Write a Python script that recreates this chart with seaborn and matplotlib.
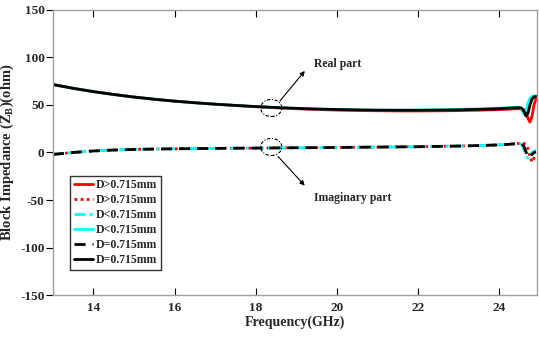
import numpy as np
import pandas as pd
import matplotlib
matplotlib.use("Agg")
import matplotlib.pyplot as plt
import seaborn as sns
from matplotlib.patches import Ellipse

sns.set_style("white")
plt.rcParams['font.family'] = ['Liberation Serif', 'DejaVu Serif']
plt.rcParams['mathtext.fontset'] = 'custom'
plt.rcParams['mathtext.rm'] = 'Liberation Serif:bold'
plt.rcParams['mathtext.it'] = 'Liberation Serif:bold'
plt.rcParams['mathtext.bf'] = 'Liberation Serif:bold'

# frequency points (GHz)
freq = [13.0, 13.5, 14.0, 14.5, 15.0, 15.5, 16.0, 16.5, 17.0, 17.5, 18.0, 18.5,
        19.0, 19.5, 20.0, 20.5, 21.0, 21.5, 22.0, 22.5, 23.0, 23.5, 24.0, 24.2,
        24.4, 24.5, 24.55, 24.6, 24.65, 24.7, 24.75, 24.8, 24.85, 24.9]

# real part (ohm)
real_gt = [71.5, 67.5, 64.0, 61.0, 58.3, 56.0, 54.0, 52.3, 50.8, 49.4, 48.1, 47.0,
           46.0, 45.2, 44.6, 44.2, 43.9, 43.7, 43.7, 43.8, 44.1, 44.5, 45.1, 45.5,
           45.9, 46.0, 45.8, 45.0, 42.0, 36.0, 32.0, 38.0, 50.0, 56.5]
real_lt = [71.5, 67.5, 64.0, 61.0, 58.3, 56.0, 54.0, 52.3, 50.8, 49.5, 48.3, 47.3,
           46.4, 45.7, 45.2, 44.8, 44.6, 44.5, 44.6, 44.8, 45.2, 45.8, 46.6, 47.1,
           47.6, 47.5, 45.0, 40.5, 44.0, 52.0, 57.0, 59.0, 59.5, 59.5]
real_eq = [71.5, 67.5, 64.0, 61.0, 58.3, 56.0, 54.0, 52.3, 50.8, 49.5, 48.3, 47.3,
           46.4, 45.7, 45.2, 44.8, 44.5, 44.4, 44.4, 44.6, 44.9, 45.4, 46.1, 46.6,
           47.1, 47.1, 46.5, 43.5, 38.5, 41.0, 50.0, 56.0, 58.5, 59.0]

# imaginary part (ohm)
imag_gt = [-2.0, 0.0, 1.6, 2.6, 3.2, 3.6, 3.9, 4.1, 4.3, 4.5, 4.6, 4.8,
           5.0, 5.1, 5.3, 5.5, 5.7, 5.9, 6.1, 6.4, 6.8, 7.3, 8.0, 8.5,
           9.2, 9.6, 9.8, 9.6, 8.5, 4.0, -4.0, -10.0, -6.0, -2.0]
imag_lt = [-2.0, 0.0, 1.6, 2.6, 3.2, 3.6, 3.9, 4.1, 4.3, 4.5, 4.6, 4.8,
           5.0, 5.1, 5.3, 5.5, 5.7, 5.9, 6.1, 6.4, 6.8, 7.3, 8.0, 8.5,
           9.3, 9.5, 8.0, 3.0, -3.0, -6.0, -3.0, 0.0, 1.5, 2.0]
imag_eq = [-2.0, 0.0, 1.6, 2.6, 3.2, 3.6, 3.9, 4.1, 4.3, 4.5, 4.6, 4.8,
           5.0, 5.1, 5.3, 5.5, 5.7, 5.9, 6.1, 6.4, 6.8, 7.3, 8.0, 8.5,
           9.2, 9.5, 9.0, 6.5, 1.0, -4.0, -5.0, -2.0, 0.0, 0.5]

labels = ['D>0.715mm', 'D>0.715mm', 'D<0.715mm', 'D<0.715mm', 'D=0.715mm', 'D=0.715mm']
series = [real_gt, imag_gt, imag_lt, real_lt, imag_eq, real_eq]
colors = ['red', 'red', 'cyan', 'cyan', 'black', 'black']
styles = ['-', (0, (1, 1.2)), (0, (4, 1.5, 1, 1.5)), '-', (0, (4, 2.5)), '-']

fig, ax = plt.subplots(figsize=(5.39, 3.4), dpi=100)
fig.subplots_adjust(left=0.098, right=0.996, bottom=0.132, top=0.971)

for vals, lab, c, ls in zip(series, labels, colors, styles):
    sns.lineplot(x=freq, y=vals, ax=ax, color=c, linestyle=ls, lw=2, label=lab)

ax.set_xlim(13, 24.92)
ax.set_ylim(-150, 150)
ax.set_xticks([14, 16, 18, 20, 22, 24])
ax.set_yticks([-150, -100, -50, 0, 50, 100, 150])
ax.set_yticklabels(['-150', '-100', '-50', '0', '50', '100', '150'])
for lab in ax.get_xticklabels() + ax.get_yticklabels():
    lab.set_fontweight('bold')
    lab.set_fontsize(9.5)
ax.tick_params(axis='x', direction='in', length=5, top=True, bottom=True, width=0.8,
               color='black', pad=5)
ax.tick_params(axis='y', direction='out', length=5, left=True, width=0.8,
               color='black', pad=1)

for sp in ax.spines.values():
    sp.set_color('#a0a0a0')
    sp.set_linewidth(1)

ax.set_xlabel('Frequency(GHz)', fontsize=10, fontweight='bold', labelpad=1)
ax.set_ylabel('Block Impedance (Z$_\\mathbf{B}$)(ohm)', fontsize=10.5, fontweight='bold', labelpad=3)

# annotations
for yc in [46.8, 5.8]:
    ax.add_patch(Ellipse((18.38, yc), 0.52, 18, fill=False, ec='black',
                         ls=(0, (3, 1.5, 1, 1.5)), lw=0.8, zorder=5))
ax.annotate('', xy=(19.25, 88), xytext=(18.55, 52),
            arrowprops=dict(arrowstyle='-|>', color='black', lw=0.8, mutation_scale=7))
ax.annotate('', xy=(19.25, -37), xytext=(18.5, -2),
            arrowprops=dict(arrowstyle='-|>', color='black', lw=0.8, mutation_scale=7))
ax.text(19.42, 93, 'Real part', fontsize=8.5, fontweight='bold', va='center')
ax.text(19.42, -48, 'Imaginary part', fontsize=8.5, fontweight='bold', va='center')

leg = ax.legend(loc='upper left', bbox_to_anchor=(0.036, 0.418), frameon=True,
                fancybox=False, edgecolor='black', handlelength=1.6, handletextpad=0.3,
                labelspacing=0.25, borderpad=0.3, borderaxespad=0,
                prop={'weight': 'bold', 'size': 8.5})
leg.get_frame().set_linewidth(1)

plt.savefig("out.png", dpi=100)
